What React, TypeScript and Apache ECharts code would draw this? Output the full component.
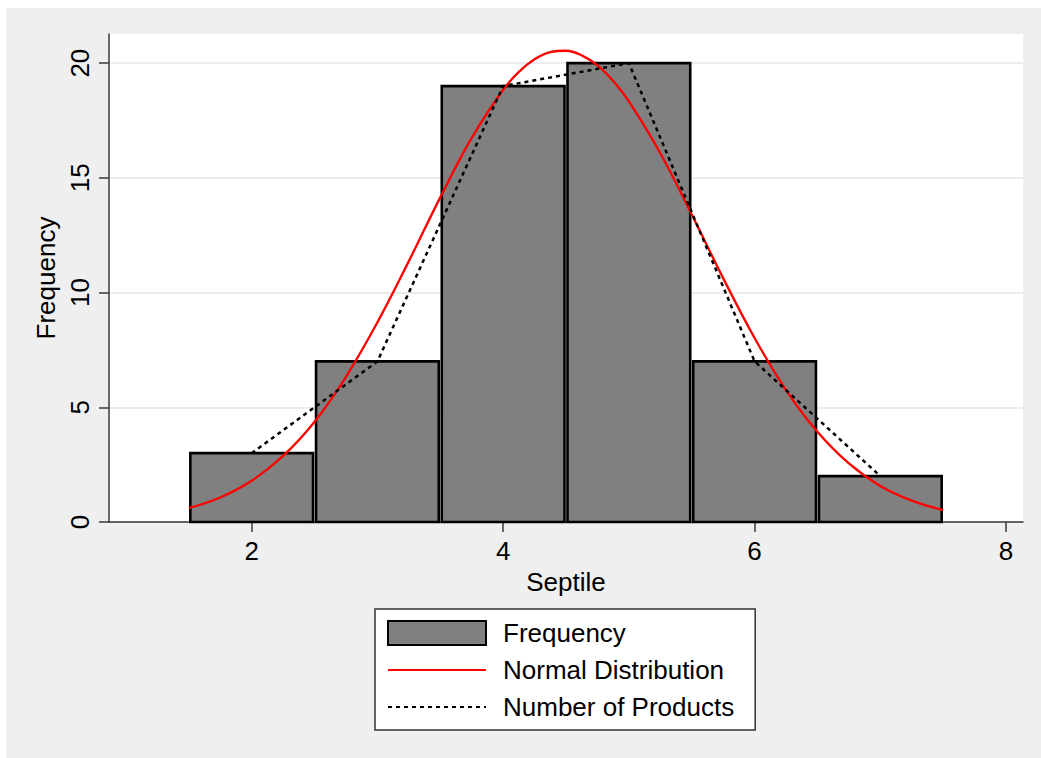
import React, { useEffect, useRef } from "react";
import * as echarts from "echarts";

const septiles = [2, 3, 4, 5, 6, 7];
const frequency = [3, 7, 19, 20, 7, 2];
const products = [3, 7, 19, 20, 7, 2];
const binWidth = 1;
const normalX = [1.5, 1.75, 2, 2.25, 2.5, 2.75, 3, 3.25, 3.5, 3.75, 4, 4.125, 4.25, 4.375, 4.5, 4.625, 4.75, 4.875, 5, 5.25, 5.5, 5.75, 6, 6.25, 6.5, 6.75, 7, 7.25, 7.5];
const normalY = [0.61, 1.07, 1.8, 2.88, 4.37, 6.33, 8.7, 11.37, 14.15, 16.74, 18.84, 19.62, 20.17, 20.48, 20.54, 20.34, 19.9, 19.22, 18.33, 16.07, 13.4, 10.63, 8.02, 5.75, 3.93, 2.55, 1.57, 0.93, 0.52];
const xTicks = [2, 4, 6, 8];
const yTicks = [0, 5, 10, 15, 20];
const xRange = [0.865, 8.135];
const yRange = [0, 21.27];

const FONT = "'Liberation Sans', Arial, sans-serif";
const HIDDEN = { color: "rgba(0,0,0,0)", borderColor: "rgba(0,0,0,0)", borderWidth: 0 };

export default function App() {
  const ref = useRef<HTMLDivElement>(null);
  useEffect(() => {
    if (!ref.current) return;
    const chart = echarts.init(ref.current, undefined, { renderer: "svg" });
    const axisColor = "#3a3a3a";
    chart.setOption({
      animation: false,
      backgroundColor: "#efefef",
      textStyle: { fontFamily: FONT },
      grid: {
        left: 103,
        top: 26,
        right: 18,
        bottom: 236,
        show: true,
        backgroundColor: "#ffffff",
        borderWidth: 0,
      },
      xAxis: {
        type: "value",
        min: xRange[0],
        max: xRange[1],
        name: "Septile",
        nameLocation: "middle",
        nameGap: 46,
        nameTextStyle: { fontFamily: FONT, fontSize: 26, color: "#000" },
        axisLine: { show: true, onZero: false, lineStyle: { color: axisColor, width: 1.5 } },
        axisTick: { show: true, length: 10, customValues: xTicks, lineStyle: { color: axisColor, width: 1.5 } },
        axisLabel: { customValues: xTicks, fontFamily: FONT, fontSize: 26, color: "#000", margin: 16 },
        splitLine: { show: false },
      },
      yAxis: {
        type: "value",
        min: yRange[0],
        max: yRange[1],
        name: "Frequency",
        nameLocation: "middle",
        nameGap: 46,
        nameTextStyle: { fontFamily: FONT, fontSize: 26, color: "#000" },
        axisLine: { show: true, onZero: false, lineStyle: { color: axisColor, width: 1.5 } },
        axisTick: { show: true, length: 10, customValues: yTicks, lineStyle: { color: axisColor, width: 1.5 } },
        axisLabel: { customValues: yTicks, rotate: 90, fontFamily: FONT, fontSize: 26, color: "#000", margin: 16 },
        splitLine: { show: true, lineStyle: { color: "#e6e6e6", width: 1.5 } },
      },
      legend: {
        orient: "vertical",
        left: 369,
        top: 601,
        backgroundColor: "#ffffff",
        borderColor: "#333333",
        borderWidth: 1.5,
        borderRadius: 0,
        padding: [11, 21, 10, 12],
        itemWidth: 98,
        itemHeight: 24,
        itemGap: 11,
        selectedMode: false,
        textStyle: { fontFamily: FONT, fontSize: 26, color: "#000", lineHeight: 26, padding: [0, 0, 0, 12] },
        data: [
          { name: "Frequency", icon: "rect", itemStyle: { color: "#808080", borderColor: "#000", borderWidth: 2 } },
          { name: "Normal Distribution", itemStyle: HIDDEN },
          { name: "Number of Products", itemStyle: HIDDEN },
        ],
      },
      series: [
        {
          name: "Frequency",
          type: "custom",
          z: 2,
          itemStyle: { color: "#808080", borderColor: "#000", borderWidth: 2 },
          data: septiles.map((s, i) => [s, frequency[i]]),
          renderItem: (params: any, api: any) => {
            const x = api.value(0);
            const y = api.value(1);
            const p0 = api.coord([x - binWidth / 2, y]);
            const p1 = api.coord([x + binWidth / 2, 0]);
            return {
              type: "rect",
              shape: { x: p0[0] + 1.5, y: p0[1], width: p1[0] - p0[0] - 3, height: p1[1] - p0[1] },
              style: { fill: "#808080", stroke: "#000", lineWidth: 2.6 },
            };
          },
        },
        {
          name: "Normal Distribution",
          type: "line",
          z: 3,
          smooth: 0.4,
          symbol: "none",
          color: "#ff0000",
          lineStyle: { color: "#ff0000", width: 2.3 },
          data: normalX.map((x, i) => [x, normalY[i]]),
        },
        {
          name: "Number of Products",
          type: "line",
          z: 4,
          symbol: "none",
          color: "#000",
          lineStyle: { color: "#000", width: 2.5, type: [4, 4] },
          data: septiles.map((s, i) => [s, products[i]]),
        },
      ],
    });
    return () => chart.dispose();
  }, []);
  return (
    <div style={{ position: "absolute", left: 0, top: 0, width: 1041, height: 758, background: "#ffffff" }}>
      <div ref={ref} style={{ position: "absolute", left: 6, top: 8, width: 1035, height: 750 }} />
    </div>
  );
}
